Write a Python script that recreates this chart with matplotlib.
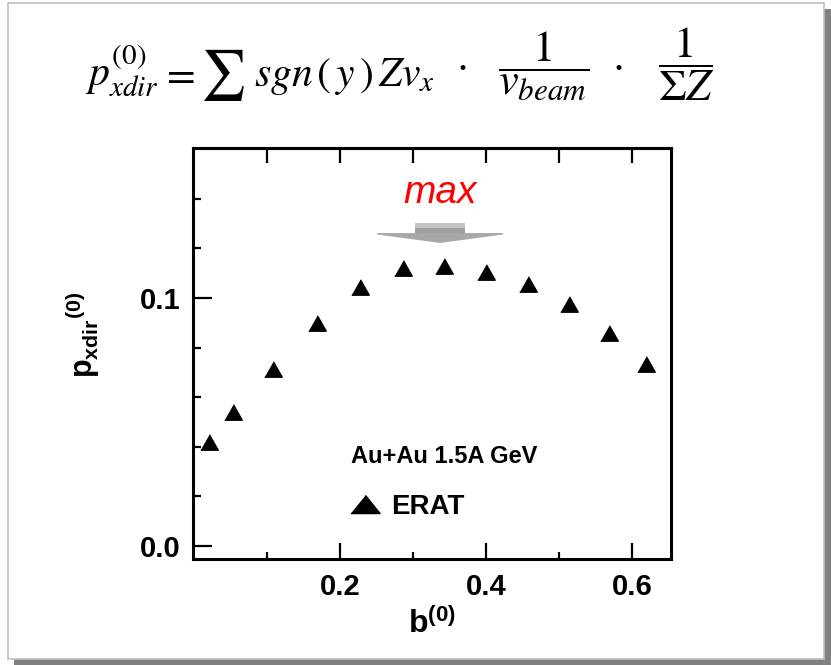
import numpy as np
import matplotlib
import matplotlib.pyplot as plt
from matplotlib.patches import Rectangle, Polygon
from matplotlib.lines import Line2D

matplotlib.use('agg')
plt.rcParams['font.family'] = ['Liberation Sans', 'DejaVu Sans']
plt.rcParams['mathtext.fontset'] = 'custom'
plt.rcParams['mathtext.rm'] = 'Liberation Sans:bold'
plt.rcParams['mathtext.it'] = 'Liberation Sans:italic'
plt.rcParams['mathtext.bf'] = 'Liberation Sans:bold'

# data
b0 = [0.021, 0.053, 0.108, 0.169, 0.228, 0.286, 0.342, 0.400, 0.457, 0.513, 0.568, 0.619]
pxdir = [0.042, 0.054, 0.0712, 0.090, 0.1046, 0.112, 0.113, 0.1106, 0.1055, 0.0975, 0.0858, 0.0734]
system_label = "Au+Au 1.5A GeV"
model_label = "ERAT"
xticks_major = [0.2, 0.4, 0.6]
xticks_minor = [0.1, 0.3, 0.5]
xticks_top = [0.1, 0.2, 0.3, 0.4, 0.5, 0.6]
yticks_major = [0.0, 0.1]
yticks_minor = [0.02, 0.04, 0.06, 0.08, 0.12, 0.14]

W, H = 831, 665
fig = plt.figure(figsize=(W / 100, H / 100), dpi=100)
fig.patch.set_facecolor('white')

# slide frame with shadow
fig.patches.append(Rectangle((14 / W, 0), 817 / W, 656 / H, transform=fig.transFigure,
                             facecolor='#808080', edgecolor='none', zorder=0))
fig.patches.append(Rectangle((8 / W, 6 / H), 816 / W, 656 / H, transform=fig.transFigure,
                             facecolor='white', edgecolor='#c0c0c0', lw=1.2, zorder=1))


def ftxt(x, y, s, size, **kw):
    # x, y given in pixels from the top-left corner
    fig.text(x / W, 1 - y / H, s, fontsize=size, math_fontfamily='stix', **kw)


# formula on top of the slide
ftxt(85, 86, r'$p^{(0)}_{xdir}$', 30, ha='left', va='baseline')
ftxt(177, 86, r'$=$', 30, ha='center', va='baseline')
ftxt(222, 88, r'$\sum$', 36, ha='center', va='baseline')
ftxt(254, 86, r'$sgn\,(\,y\,)$', 30, ha='left', va='baseline')
ftxt(378, 86, r'$Zv_x$', 30, ha='left', va='baseline')
ftxt(461, 76, r'$\cdot$', 30, ha='center', va='baseline')
ftxt(544, 66, r'$\dfrac{1}{v_{beam}}$', 32, ha='center', va='center')
ftxt(617, 76, r'$\cdot$', 30, ha='center', va='baseline')
ftxt(686, 64, r'$\dfrac{1}{\Sigma Z}$', 32, ha='center', va='center')

ax = fig.add_axes([193 / W, 106 / H, 478 / W, 411 / H])
ax.set_zorder(2)
ax.plot(b0, pxdir, ls='none', marker=[(-1, -0.88), (1, -0.88), (0, 0.88)],
        ms=12.6, color='black')

ax.set_xlim(-0.0014, 0.6534)
ax.set_ylim(-0.00524, 0.1605)
for s in ax.spines.values():
    s.set_linewidth(2.2)

ax.set_xticks(xticks_major)
ax.set_xticks(xticks_minor, minor=True)
ax.set_xticklabels(['%.1f' % v for v in xticks_major], fontweight='bold')
ax.set_yticks(yticks_major)
ax.set_yticks(yticks_minor, minor=True)
ax.set_yticklabels(['%.1f' % v for v in yticks_major], fontweight='bold')
ax.tick_params(which='both', direction='in', top=False, right=False, width=1.6, labelsize=21)
ax.tick_params(axis='x', which='major', length=11.5, pad=10)
ax.tick_params(axis='x', which='minor', length=5)
ax.tick_params(axis='y', which='major', length=13.7, pad=9)
ax.tick_params(axis='y', which='minor', length=5.8)

top = ax.secondary_xaxis('top')
top.set_xticks(xticks_top)
top.tick_params(direction='in', length=10.8, width=1.6, labeltop=False)
top.spines['top'].set_linewidth(2.2)

ax.set_xlabel(r'$\mathbf{b}^{(0)}$', fontsize=23, labelpad=5)
ax.set_ylabel(r'$\mathbf{p_{xdir}}^{(0)}$', fontsize=22)
ax.yaxis.set_label_coords(-0.19, 0.545)

ax.text(0.33, 0.2336, system_label, transform=ax.transAxes, fontsize=17,
        fontweight='bold', va='baseline')
handle = Line2D([], [], ls='none', marker=[(-1, -0.62), (1, -0.62), (0, 0.62)],
                ms=21, color='black', label=model_label)
ax.legend(handles=[handle], loc='upper left', bbox_to_anchor=(0.327, 0.158), frameon=False,
          prop={'size': 20, 'weight': 'bold'}, handlelength=1.1, handletextpad=0.4,
          borderpad=0, borderaxespad=0)

# "max" marker above the peak
ipk = int(np.argmax(pxdir))
xc = b0[ipk] - 0.005
ax.text(0.517, 0.89, 'max', transform=ax.transAxes, color='red', fontsize=28,
        style='italic', ha='center', va='center')
ax.add_patch(Rectangle((xc - 0.0342, 0.1258), 0.0684, 0.0024, facecolor='#a0a0a0',
                       edgecolor='none', clip_on=False))
ax.add_patch(Rectangle((xc - 0.0342, 0.1282), 0.0684, 0.0020, facecolor='#c4c4c4',
                       edgecolor='none', clip_on=False))
ax.add_patch(Polygon([(xc - 0.0863, 0.1262), (xc + 0.0863, 0.1262), (xc + 0.0863, 0.1256),
                      (xc, 0.1222), (xc - 0.0863, 0.1256)], closed=True,
                     facecolor='#a8a8a8', edgecolor='none', clip_on=False))

fig.savefig('out.png', dpi=100, facecolor=fig.get_facecolor())
